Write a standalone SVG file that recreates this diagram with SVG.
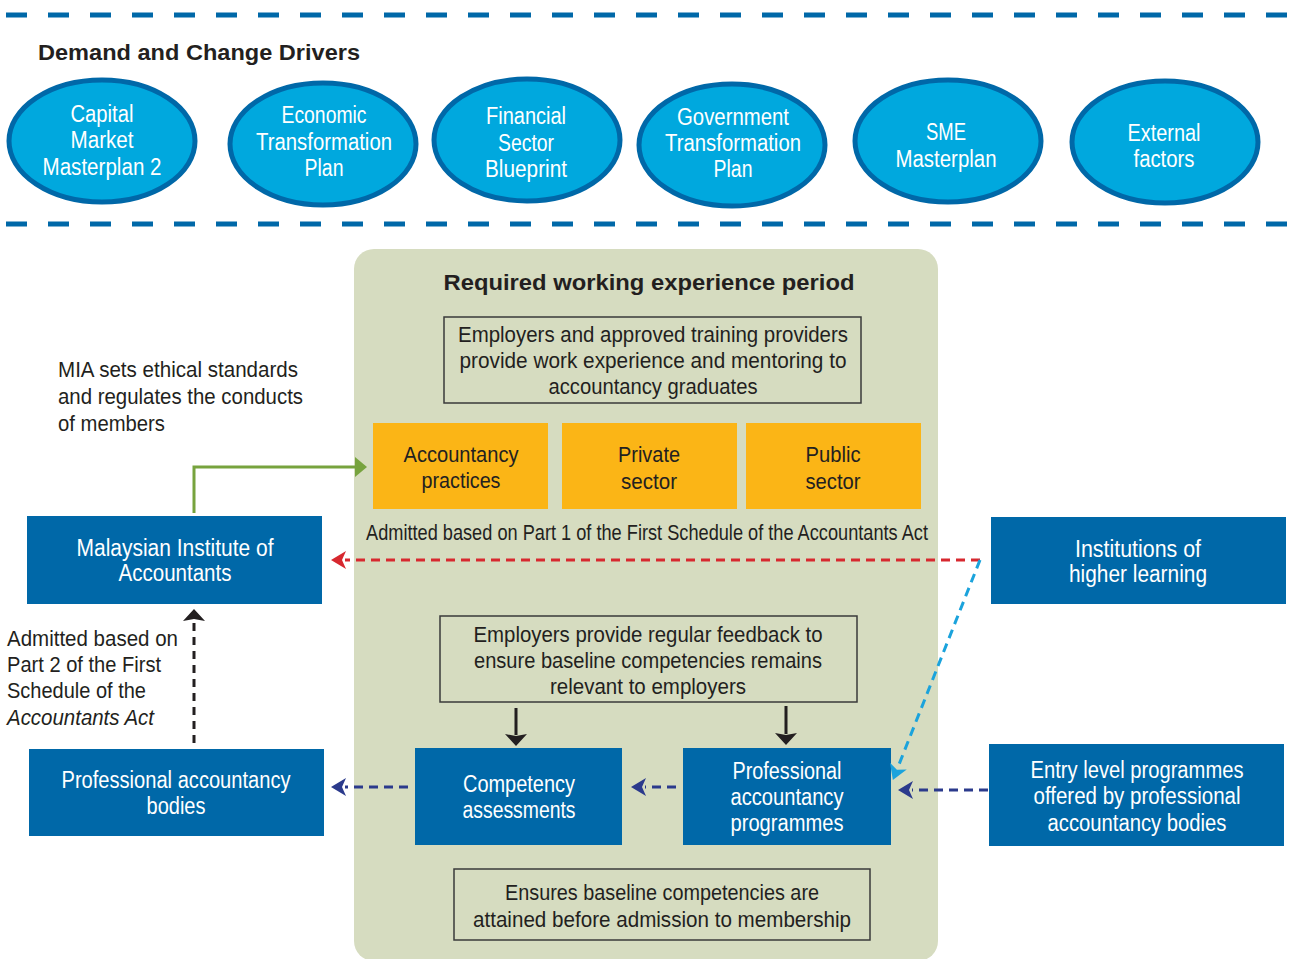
<svg xmlns="http://www.w3.org/2000/svg" width="1292" height="959" viewBox="0 0 1292 959">
<style>
.t{font-family:"Liberation Sans",Arial,sans-serif;font-size:22px;fill:#231f20}
.w{fill:#ffffff;font-size:23px}
.b{font-weight:bold}
.i{font-style:italic}
.ell{fill:#00a8de;stroke:#0068a8;stroke-width:5}
.box{fill:#0068a8}
.org{fill:#fbb516}
.frame{fill:none;stroke:#3a3a3a;stroke-width:1.5}
.sep{stroke:#0068a8;stroke-width:5;stroke-dasharray:21 21;fill:none}
</style>
<defs>
<marker id="hNavy" markerUnits="userSpaceOnUse" markerWidth="16" markerHeight="20" refX="1" refY="10" orient="auto"><path d="M0,1 L15,10 L0,19 L4,10 z" fill="#2b3a8c"/></marker>
<marker id="hRed" markerUnits="userSpaceOnUse" markerWidth="16" markerHeight="20" refX="1" refY="10" orient="auto"><path d="M0,1 L15,10 L0,19 L4,10 z" fill="#d7282f"/></marker>
<marker id="hBlue" markerUnits="userSpaceOnUse" markerWidth="16" markerHeight="20" refX="1" refY="10" orient="auto"><path d="M0,1 L15,10 L0,19 L4,10 z" fill="#1ba3dc"/></marker>
<marker id="hBlack" markerUnits="userSpaceOnUse" markerWidth="14" markerHeight="22" refX="1" refY="11" orient="auto"><path d="M0,0 L12,11 L0,22 L2,11 z" fill="#231f20"/></marker>
<marker id="hGreen" markerUnits="userSpaceOnUse" markerWidth="14" markerHeight="22" refX="1" refY="11" orient="auto"><path d="M0,1 L12,11 L0,21 z" fill="#77a33e"/></marker>
</defs>

<g id="separators">
<line class="sep" x1="6" y1="15" x2="1292" y2="15"/>
<line class="sep" x1="6" y1="224" x2="1292" y2="224"/>
</g>

<text id="drivers-title" class="t b" x="38" y="60" textLength="322" lengthAdjust="spacingAndGlyphs">Demand and Change Drivers</text>

<g id="d1">
<ellipse class="ell" cx="102" cy="141" rx="93" ry="61"/>
<text class="t w" text-anchor="middle" x="102" y="122" textLength="63" lengthAdjust="spacingAndGlyphs">Capital</text>
<text class="t w" text-anchor="middle" x="102" y="148" textLength="63" lengthAdjust="spacingAndGlyphs">Market</text>
<text class="t w" text-anchor="middle" x="102" y="175" textLength="119" lengthAdjust="spacingAndGlyphs">Masterplan 2</text>
</g>
<g id="d2">
<ellipse class="ell" cx="323" cy="144" rx="93" ry="61"/>
<text class="t w" text-anchor="middle" x="324" y="123" textLength="85" lengthAdjust="spacingAndGlyphs">Economic</text>
<text class="t w" text-anchor="middle" x="324" y="150" textLength="136" lengthAdjust="spacingAndGlyphs">Transformation</text>
<text class="t w" text-anchor="middle" x="324" y="176" textLength="39" lengthAdjust="spacingAndGlyphs">Plan</text>
</g>
<g id="d3">
<ellipse class="ell" cx="527" cy="140" rx="93" ry="61"/>
<text class="t w" text-anchor="middle" x="526" y="124" textLength="80" lengthAdjust="spacingAndGlyphs">Financial</text>
<text class="t w" text-anchor="middle" x="526" y="151" textLength="56" lengthAdjust="spacingAndGlyphs">Sector</text>
<text class="t w" text-anchor="middle" x="526" y="177" textLength="82" lengthAdjust="spacingAndGlyphs">Blueprint</text>
</g>
<g id="d4">
<ellipse class="ell" cx="732" cy="145" rx="93" ry="61"/>
<text class="t w" text-anchor="middle" x="733" y="125" textLength="112" lengthAdjust="spacingAndGlyphs">Government</text>
<text class="t w" text-anchor="middle" x="733" y="151" textLength="136" lengthAdjust="spacingAndGlyphs">Transformation</text>
<text class="t w" text-anchor="middle" x="733" y="177" textLength="39" lengthAdjust="spacingAndGlyphs">Plan</text>
</g>
<g id="d5">
<ellipse class="ell" cx="948" cy="141" rx="93" ry="61"/>
<text class="t w" text-anchor="middle" x="946" y="140" textLength="40" lengthAdjust="spacingAndGlyphs">SME</text>
<text class="t w" text-anchor="middle" x="946" y="167" textLength="101" lengthAdjust="spacingAndGlyphs">Masterplan</text>
</g>
<g id="d6">
<ellipse class="ell" cx="1165" cy="142" rx="93" ry="61"/>
<text class="t w" text-anchor="middle" x="1164" y="141" textLength="73" lengthAdjust="spacingAndGlyphs">External</text>
<text class="t w" text-anchor="middle" x="1164" y="167" textLength="61" lengthAdjust="spacingAndGlyphs">factors</text>
</g>

<g id="panel">
<rect x="354" y="249" width="584" height="712" rx="20" fill="#d6dcc0"/>
<text class="t b" text-anchor="middle" x="649" y="290" textLength="411" lengthAdjust="spacingAndGlyphs">Required working experience period</text>
</g>

<g id="employers-box">
<rect class="frame" x="444" y="317" width="417" height="86"/>
<text class="t" text-anchor="middle" x="653" y="342" textLength="390" lengthAdjust="spacingAndGlyphs">Employers and approved training providers</text>
<text class="t" text-anchor="middle" x="653" y="368" textLength="387" lengthAdjust="spacingAndGlyphs">provide work experience and mentoring to</text>
<text class="t" text-anchor="middle" x="653" y="394" textLength="209" lengthAdjust="spacingAndGlyphs">accountancy graduates</text>
</g>

<g id="accountancy-practices">
<rect class="org" x="373" y="423" width="175" height="86"/>
<text class="t" text-anchor="middle" x="461" y="462" textLength="115" lengthAdjust="spacingAndGlyphs">Accountancy</text>
<text class="t" text-anchor="middle" x="461" y="488" textLength="79" lengthAdjust="spacingAndGlyphs">practices</text>
</g>
<g id="private-sector">
<rect class="org" x="562" y="423" width="175" height="86"/>
<text class="t" text-anchor="middle" x="649" y="462" textLength="62" lengthAdjust="spacingAndGlyphs">Private</text>
<text class="t" text-anchor="middle" x="649" y="489" textLength="56" lengthAdjust="spacingAndGlyphs">sector</text>
</g>
<g id="public-sector">
<rect class="org" x="746" y="423" width="175" height="86"/>
<text class="t" text-anchor="middle" x="833" y="462" textLength="55" lengthAdjust="spacingAndGlyphs">Public</text>
<text class="t" text-anchor="middle" x="833" y="489" textLength="55" lengthAdjust="spacingAndGlyphs">sector</text>
</g>

<text id="part1-label" class="t" x="366" y="540" font-size="21" textLength="562" lengthAdjust="spacingAndGlyphs">Admitted based on Part 1 of the First Schedule of the Accountants Act</text>

<g id="mia-note">
<text class="t" x="58" y="377" textLength="240" lengthAdjust="spacingAndGlyphs">MIA sets ethical standards</text>
<text class="t" x="58" y="404" textLength="245" lengthAdjust="spacingAndGlyphs">and regulates the conducts</text>
<text class="t" x="58" y="431" textLength="107" lengthAdjust="spacingAndGlyphs">of members</text>
</g>

<g id="mia">
<rect class="box" x="27" y="516" width="295" height="88"/>
<text class="t w" text-anchor="middle" x="175" y="556" textLength="197" lengthAdjust="spacingAndGlyphs">Malaysian Institute of</text>
<text class="t w" text-anchor="middle" x="175" y="581" textLength="113" lengthAdjust="spacingAndGlyphs">Accountants</text>
</g>

<g id="ihl">
<rect class="box" x="991" y="517" width="295" height="87"/>
<text class="t w" text-anchor="middle" x="1138" y="557" textLength="126" lengthAdjust="spacingAndGlyphs">Institutions of</text>
<text class="t w" text-anchor="middle" x="1138" y="582" textLength="138" lengthAdjust="spacingAndGlyphs">higher learning</text>
</g>

<g id="part2-note">
<text class="t" x="7" y="646" textLength="171" lengthAdjust="spacingAndGlyphs">Admitted based on</text>
<text class="t" x="7" y="672" textLength="154" lengthAdjust="spacingAndGlyphs">Part 2 of the First</text>
<text class="t" x="7" y="698" textLength="139" lengthAdjust="spacingAndGlyphs">Schedule of the</text>
<text class="t i" x="7" y="725" textLength="147" lengthAdjust="spacingAndGlyphs">Accountants Act</text>
</g>

<g id="feedback-box">
<rect class="frame" x="440" y="616" width="417" height="86"/>
<text class="t" text-anchor="middle" x="648" y="642" textLength="349" lengthAdjust="spacingAndGlyphs">Employers provide regular feedback to</text>
<text class="t" text-anchor="middle" x="648" y="668" textLength="348" lengthAdjust="spacingAndGlyphs">ensure baseline competencies remains</text>
<text class="t" text-anchor="middle" x="648" y="694" textLength="196" lengthAdjust="spacingAndGlyphs">relevant to employers</text>
</g>

<g id="pab">
<rect class="box" x="29" y="749" width="295" height="87"/>
<text class="t w" text-anchor="middle" x="176" y="788" textLength="229" lengthAdjust="spacingAndGlyphs">Professional accountancy</text>
<text class="t w" text-anchor="middle" x="176" y="814" textLength="59" lengthAdjust="spacingAndGlyphs">bodies</text>
</g>

<g id="competency">
<rect class="box" x="415" y="748" width="207" height="97"/>
<text class="t w" text-anchor="middle" x="519" y="792" textLength="112" lengthAdjust="spacingAndGlyphs">Competency</text>
<text class="t w" text-anchor="middle" x="519" y="818" textLength="113" lengthAdjust="spacingAndGlyphs">assessments</text>
</g>

<g id="pap">
<rect class="box" x="683" y="748" width="208" height="97"/>
<text class="t w" text-anchor="middle" x="787" y="779" textLength="109" lengthAdjust="spacingAndGlyphs">Professional</text>
<text class="t w" text-anchor="middle" x="787" y="805" textLength="113" lengthAdjust="spacingAndGlyphs">accountancy</text>
<text class="t w" text-anchor="middle" x="787" y="831" textLength="113" lengthAdjust="spacingAndGlyphs">programmes</text>
</g>

<g id="entry-level">
<rect class="box" x="989" y="744" width="295" height="102"/>
<text class="t w" text-anchor="middle" x="1137" y="778" textLength="213" lengthAdjust="spacingAndGlyphs">Entry level programmes</text>
<text class="t w" text-anchor="middle" x="1137" y="804" textLength="207" lengthAdjust="spacingAndGlyphs">offered by professional</text>
<text class="t w" text-anchor="middle" x="1137" y="831" textLength="179" lengthAdjust="spacingAndGlyphs">accountancy bodies</text>
</g>

<g id="ensures-box">
<rect class="frame" x="454" y="869" width="416" height="71"/>
<text class="t" text-anchor="middle" x="662" y="900" textLength="314" lengthAdjust="spacingAndGlyphs">Ensures baseline competencies are</text>
<text class="t" text-anchor="middle" x="662" y="927" textLength="378" lengthAdjust="spacingAndGlyphs">attained before admission to membership</text>
</g>

<g id="connectors" fill="none">
<path d="M194,513 V467 H356" stroke="#77a33e" stroke-width="3" marker-end="url(#hGreen)"/>
<line x1="194" y1="743" x2="194" y2="620" stroke="#231f20" stroke-width="3" stroke-dasharray="8 6" marker-end="url(#hBlack)"/>
<line x1="980" y1="560" x2="345" y2="560" stroke="#d7282f" stroke-width="3" stroke-dasharray="9 6" marker-end="url(#hRed)"/>
<line x1="980" y1="560" x2="898" y2="767" stroke="#1ba3dc" stroke-width="3" stroke-dasharray="9 6" marker-end="url(#hBlue)"/>
<line x1="988" y1="790" x2="912" y2="790" stroke="#2b3a8c" stroke-width="3" stroke-dasharray="9 6" marker-end="url(#hNavy)"/>
<line x1="676" y1="787" x2="645" y2="787" stroke="#2b3a8c" stroke-width="3" stroke-dasharray="9 6" marker-end="url(#hNavy)"/>
<line x1="408" y1="787" x2="345" y2="787" stroke="#2b3a8c" stroke-width="3" stroke-dasharray="9 6" marker-end="url(#hNavy)"/>
<line x1="516" y1="708" x2="516" y2="735" stroke="#231f20" stroke-width="3" marker-end="url(#hBlack)"/>
<line x1="786" y1="706" x2="786" y2="734" stroke="#231f20" stroke-width="3" marker-end="url(#hBlack)"/>
</g>
</svg>
